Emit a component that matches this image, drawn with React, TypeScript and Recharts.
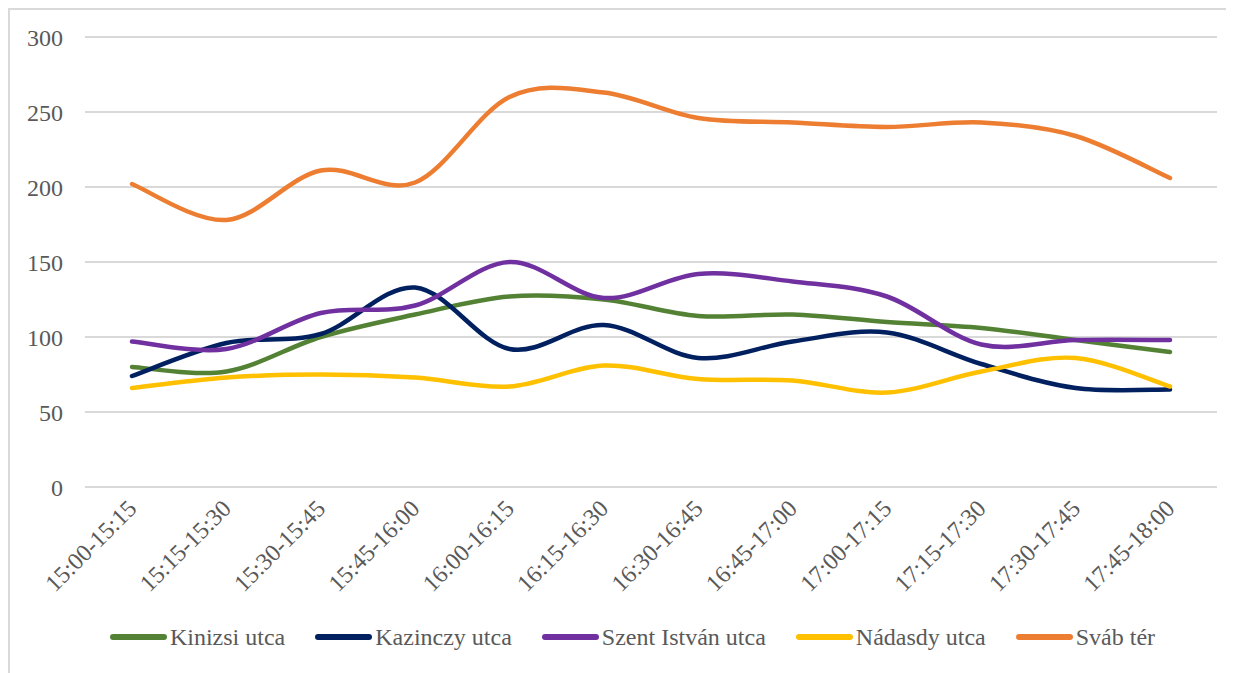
import { LineChart, Line, XAxis, YAxis, CartesianGrid, Legend } from "recharts";

const periods = [
  "15:00-15:15", "15:15-15:30", "15:30-15:45", "15:45-16:00",
  "16:00-16:15", "16:15-16:30", "16:30-16:45", "16:45-17:00",
  "17:00-17:15", "17:15-17:30", "17:30-17:45", "17:45-18:00",
];

const kinizsi = [80, 77, 100, 115, 127, 125, 114, 115, 110, 106, 98, 90];
const kazinczy = [74, 96, 102, 133, 92, 108, 86, 97, 103, 82, 66, 65];
const szentIstvan = [97, 92, 116, 121, 150, 126, 142, 137, 127, 95, 98, 98];
const nadasdy = [66, 73, 75, 73, 67, 81, 72, 71, 63, 77, 86, 67];
const svab = [202, 178, 211, 203, 260, 263, 246, 243, 240, 243, 234, 206];

const yTicks = [0, 50, 100, 150, 200, 250, 300];

const series = [
  { key: "kinizsi", name: "Kinizsi utca", color: "#548235" },
  { key: "kazinczy", name: "Kazinczy utca", color: "#002060" },
  { key: "szentIstvan", name: "Szent István utca", color: "#7030a0" },
  { key: "nadasdy", name: "Nádasdy utca", color: "#ffc000" },
  { key: "svab", name: "Sváb tér", color: "#ed7d31" },
];

const data = periods.map((period, i) => ({
  period,
  kinizsi: kinizsi[i],
  kazinczy: kazinczy[i],
  szentIstvan: szentIstvan[i],
  nadasdy: nadasdy[i],
  svab: svab[i],
}));

const FONT = `"Times New Roman"`;
const TEXT = "#595959";

// Excel-style smoothed line (Catmull-Rom through every point)
function excelSmooth(context: any) {
  let pts: number[][] = [];
  return {
    areaStart() {},
    areaEnd() {},
    lineStart() {
      pts = [];
    },
    point(x: number, y: number) {
      pts.push([+x, +y]);
    },
    lineEnd() {
      if (!pts.length) return;
      context.moveTo(pts[0][0], pts[0][1]);
      for (let i = 0; i < pts.length - 1; i++) {
        const p0 = pts[Math.max(0, i - 1)];
        const p1 = pts[i];
        const p2 = pts[i + 1];
        const p3 = pts[Math.min(pts.length - 1, i + 2)];
        context.bezierCurveTo(
          p1[0] + (p2[0] - p0[0]) / 6,
          p1[1] + (p2[1] - p0[1]) / 6,
          p2[0] - (p3[0] - p1[0]) / 6,
          p2[1] - (p3[1] - p1[1]) / 6,
          p2[0],
          p2[1]
        );
      }
    },
  };
}

function PeriodTick({ x, y, payload }: any) {
  return (
    <g transform={`translate(${x + 6},${y + 15})`}>
      <text
        x={0}
        y={0}
        textAnchor="end"
        transform="rotate(-45)"
        fontFamily={FONT}
        fontSize={24}
        fill={TEXT}
      >
        {payload.value}
      </text>
    </g>
  );
}

function LegendContent() {
  return (
    <div
      style={{
        height: 44,
        paddingLeft: 38,
        display: "flex",
        justifyContent: "center",
        alignItems: "center",
        fontFamily: FONT,
        fontSize: 24,
        color: TEXT,
      }}
    >
      {series.map((s) => (
        <div key={s.key} style={{ display: "flex", alignItems: "center", margin: "0 15px" }}>
          <span
            style={{
              display: "inline-block",
              width: 57,
              height: 6,
              borderRadius: 3,
              background: s.color,
              marginRight: 3,
            }}
          />
          <span>{s.name}</span>
        </div>
      ))}
    </div>
  );
}

export default function App() {
  return (
    <div
      style={{
        width: 1226,
        height: 665,
        borderLeft: "2px solid #d9d9d9",
        borderTop: "2px solid #d9d9d9",
        boxSizing: "border-box",
        background: "#fff",
        fontFamily: FONT,
      }}
    >
      <LineChart
        width={1224}
        height={663}
        data={data}
        margin={{ top: 27, right: 17, left: 0, bottom: 14 }}
      >
        <CartesianGrid horizontal vertical={false} stroke="#d9d9d9" strokeWidth={2} />
        <XAxis
          dataKey="period"
          interval={0}
          padding={{ left: 47, right: 47 }}
          axisLine={false}
          tickLine={false}
          height={128}
          tick={<PeriodTick />}
        />
        <YAxis
          domain={[0, 300]}
          ticks={yTicks}
          width={75}
          axisLine={false}
          tickLine={false}
          tickMargin={16}
          tick={{ fontSize: 24, fill: TEXT, fontFamily: FONT }}
        />
        <Legend verticalAlign="bottom" height={44} content={<LegendContent />} />
        {series.map((s) => (
          <Line
            key={s.key}
            dataKey={s.key}
            name={s.name}
            type={excelSmooth as any}
            stroke={s.color}
            strokeWidth={4.5}
            strokeLinecap="round"
            dot={false}
            activeDot={false}
            isAnimationActive={false}
          />
        ))}
      </LineChart>
    </div>
  );
}
